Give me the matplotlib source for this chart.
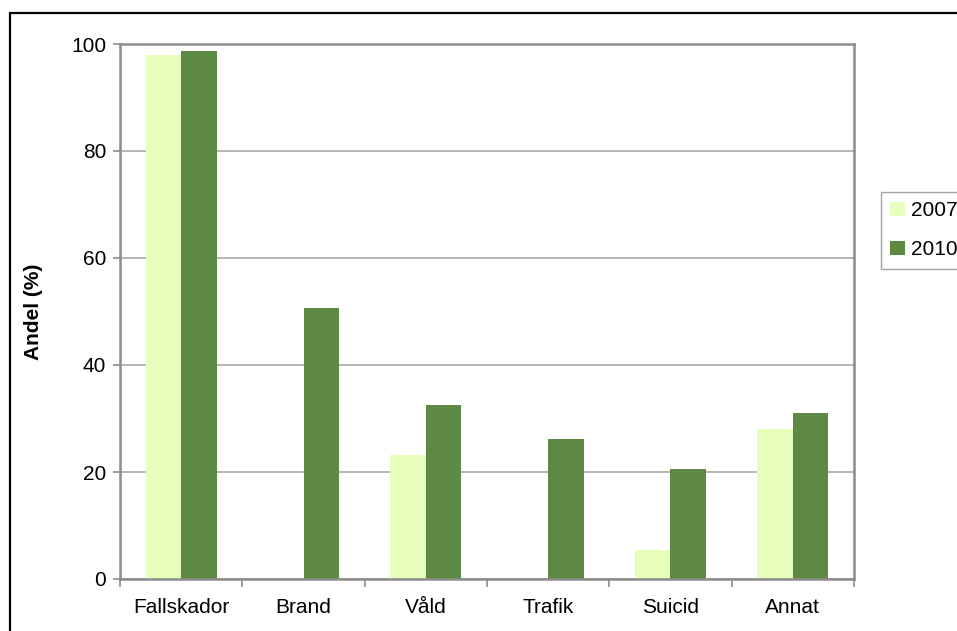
import numpy as np
import matplotlib.pyplot as plt
from matplotlib.patches import Rectangle

plt.rcParams['font.family'] = ['Liberation Sans', 'DejaVu Sans']

categories = ['Fallskador', 'Brand', 'Våld', 'Trafik', 'Suicid', 'Annat']
years = ['2007', '2010']
v2007 = [97.9, 0, 23.2, 0, 5.4, 28.0]
v2010 = [98.7, 50.7, 32.5, 26.2, 20.6, 31.0]
yticks = [0, 20, 40, 60, 80, 100]

light = '#E6FDBC'
dark = '#5D8944'
grey = '#8C8C8C'
fs = 15

fig = plt.figure(figsize=(9.57, 6.31), dpi=100)
ax = fig.add_axes([120/957, 1-579/631, 734/957, 535/631])

x = np.arange(len(categories))
w = 0.29
ax.bar(x - w/2, v2007, w, color=light, label=years[0], zorder=2)
ax.bar(x + w/2, v2010, w, color=dark, label=years[1], zorder=2)

ax.set_xlim(-0.5, len(categories) - 0.5)
ax.set_ylim(0, 100)
ax.set_yticks(yticks)
ax.yaxis.grid(True, color='#B0B0B0', linewidth=1.3, zorder=0)
ax.tick_params(axis='y', labelsize=fs, length=5, width=1.2, color=grey, pad=5)

ax.set_xticks(np.arange(-0.5, len(categories)), labels=[''] * (len(categories) + 1))
ax.set_xticks(x, labels=categories, minor=True)
ax.tick_params(axis='x', which='major', length=6, width=1.2, color=grey)
ax.tick_params(axis='x', which='minor', length=0, labelsize=fs, pad=14)

for s in ax.spines.values():
    s.set_color(grey)
    s.set_linewidth(1.8)

ax.set_ylabel('Andel (%)', fontsize=fs, fontweight='bold', labelpad=20)

fig.legend(loc='upper left', bbox_to_anchor=(881/957, 1-192/631), borderaxespad=0, fontsize=fs,
           frameon=True, fancybox=False, edgecolor=grey, handlelength=0.7, handleheight=0.7,
           handletextpad=0.3, borderpad=0.45, labelspacing=0.95)

fig.patches.append(Rectangle((10/957, -0.1), 1.2, 1.1 - 13/631, transform=fig.transFigure,
                             fill=False, edgecolor='black', linewidth=1.6))

fig.savefig('out.png', dpi=100)
